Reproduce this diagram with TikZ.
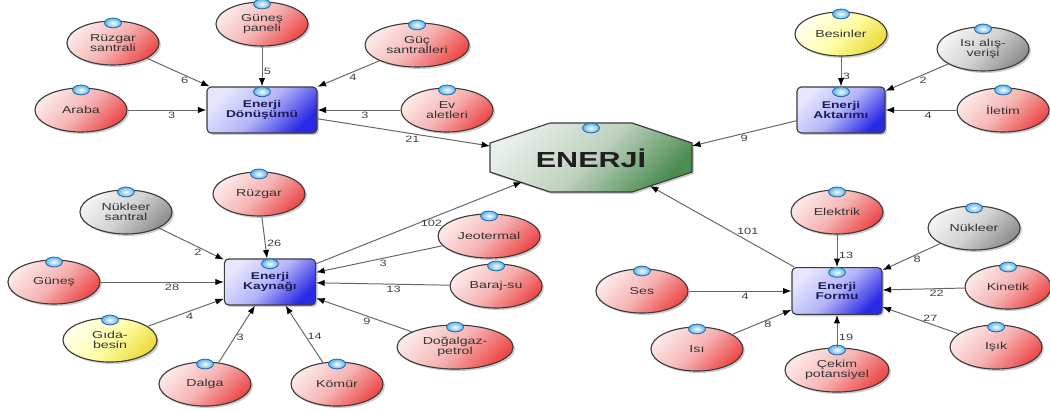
\documentclass[tikz,border=0pt]{standalone}
\usepackage{fontspec}
\newfontfamily\diafont[FakeStretch=1.4]{Liberation Sans}
\usetikzlibrary{positioning,shapes.geometric,arrows.meta,shadows}

\definecolor{rim}{HTML}{3C3C3C}
\definecolor{edgegray}{HTML}{666666}
\definecolor{rosaA}{HTML}{FDE8E8}
\definecolor{rosaB}{HTML}{F6B4B4}
\definecolor{rosaC}{HTML}{EE4A4A}
\definecolor{grisA}{HTML}{F4F4F4}
\definecolor{grisB}{HTML}{D2D2D2}
\definecolor{grisC}{HTML}{8E8E8E}
\definecolor{sariA}{HTML}{FFFFEC}
\definecolor{sariB}{HTML}{FFFFAA}
\definecolor{sariC}{HTML}{ECDC3C}
\definecolor{maviA}{HTML}{E6E6FF}
\definecolor{maviB}{HTML}{B4B4F8}
\definecolor{maviC}{HTML}{2A2AE6}
\definecolor{yesilA}{HTML}{E8EEE8}
\definecolor{yesilB}{HTML}{C0D2C0}
\definecolor{yesilC}{HTML}{4C8E52}
\definecolor{iconblue}{HTML}{5AB4EE}
\definecolor{iconrim}{HTML}{2A6AA8}
\definecolor{navy}{HTML}{1C1C5C}

\newcommand\leaffont{\diafont\fontsize{7.2}{7}\selectfont}
\newcommand\boxfont{\diafont\bfseries\fontsize{7}{7.4}\selectfont}
\newcommand\numfont{\diafont\fontsize{6.5}{7}\selectfont}

\tikzset{
	icon/.style={draw=iconrim, line width=0.6pt, inner color=white, outer color=iconblue},
	iconmark/.style={ellipse, icon, minimum width=12pt, minimum height=7pt, inner sep=0pt, anchor=center},
	badge/.style={label={[iconmark, yshift=-#1]north:{}}},
	soft shadow/.style={drop shadow={shadow xshift=1.4pt, shadow yshift=-1.4pt, fill=black, opacity=.2}},
	leaf/.style={ellipse, draw=rim, line width=0.8pt, minimum width=2.3cm, minimum height=1.1cm, inner sep=0pt, align=center, font=\leaffont, text=black!80, soft shadow, badge=1.8pt},
	redleaf/.style={leaf, top color=rosaA, bottom color=rosaC, middle color=rosaB, shading angle=45},
	grayleaf/.style={leaf, top color=grisA, bottom color=grisC, middle color=grisB, shading angle=45},
	yelleaf/.style={leaf, top color=sariA, bottom color=sariC, middle color=sariB, shading angle=45},
	box/.style={rectangle, rounded corners=3pt, draw=rim, line width=0.8pt, minimum width=2.75cm, minimum height=1.15cm, inner sep=0pt, align=center, font=\boxfont, text=navy, top color=maviA, bottom color=maviC, middle color=maviB, shading angle=45, soft shadow, badge=3.8pt},
	core/.style={draw=rim, line width=0.8pt, top color=yesilA, bottom color=yesilC, middle color=yesilB, shading angle=45, soft shadow},
	link/.style={draw=edgegray, line width=0.7pt, -{Latex[length=6pt, width=4.5pt, color=black]}},
	num/.style={font=\numfont, text=black!75, inner sep=1pt}
}

\begin{document}
\begin{tikzpicture}[x=0.025cm, y=-0.025cm, on grid]
	\useasboundingbox (0,0) rectangle (1050,410);

	\draw[core] (550,123) -- (632,123) -- (692,143) -- (692,172) -- (632,192) -- (550,192) -- (490,172) -- (490,143) -- cycle;
	\node[iconmark] (coreicon) at (591,128) {};
	\node[font=\diafont\bfseries\fontsize{15.5}{18}\selectfont, text=black!88] (enerji) at (591,158) {ENERJİ};
	\coordinate (core-w) at (490,146);
	\coordinate (core-e) at (692,146);
	\coordinate (core-sw) at (522,182);
	\coordinate (core-se) at (650,186);

	\node[box] (don) at (262,110) {Enerji\\Dönüşümü};
	\node[box, minimum width=2.2cm] (akt) at (841,110) {Enerji\\Aktarımı};
	\node[box, minimum width=2.28cm] (kay) at (270,282) {Enerji\\Kaynağı};
	\node[box, minimum width=2.25cm, minimum height=1.17cm] (frm) at (837,291) {Enerji\\Formu};

	\node[redleaf, above left=1.675cm and 3.725cm of don] (ruzs) {Rüzgar\\santrali};
	\node[redleaf, above=2.15cm of don] (gunp) {Güneş\\paneli};
	\node[redleaf, minimum width=2.6cm, above right=1.625cm and 3.875cm of don] (guc) {Güç\\santralleri};
	\node[redleaf, left=4.525cm of don] (arb) {Araba};
	\node[redleaf, right=4.625cm of don] (ev) {Ev\\aletleri};

	\node[yelleaf, above=1.9cm of akt] (bes) {Besinler};
	\node[grayleaf, above right=1.525cm and 3.55cm of akt] (isv) {Isı alış-\\verişi};
	\node[redleaf, right=4.05cm of akt] (ilt) {İletim};

	\node[redleaf, above left=2.2cm and 0.275cm of kay] (rzg) {Rüzgar};
	\node[grayleaf, above left=1.75cm and 3.6cm of kay] (nks) {Nükleer\\santral};
	\node[redleaf, left=5.4cm of kay] (gns) {Güneş};
	\node[yelleaf, minimum width=2.35cm, below left=1.45cm and 4cm of kay] (gid) {Gıda-\\besin};
	\node[redleaf, below left=2.55cm and 1.625cm of kay] (dlg) {Dalga};
	\node[redleaf, below right=2.55cm and 1.675cm of kay] (kmr) {Kömür};
	\node[redleaf, minimum width=2.55cm, above right=1.15cm and 5.475cm of kay] (jeo) {Jeotermal};
	\node[redleaf, below right=0.1cm and 5.65cm of kay] (brj) {Baraj-su};
	\node[redleaf, minimum width=2.9cm, below right=1.625cm and 4.625cm of kay] (dgz) {Doğalgaz-\\petrol};

	\node[redleaf, above=1.975cm of frm] (elk) {Elektrik};
	\node[grayleaf, above right=1.575cm and 3.425cm of frm] (nkl) {Nükleer};
	\node[redleaf, minimum width=2.15cm, above right=0.1cm and 4.275cm of frm] (kin) {Kinetik};
	\node[redleaf, below right=1.4cm and 3.975cm of frm] (isk) {Işık};
	\node[redleaf, minimum width=2.6cm, below=1.975cm of frm] (cek) {Çekim\\potansiyel};
	\node[redleaf, below left=1.45cm and 3.5cm of frm] (isi) {Isı};
	\node[redleaf, left=4.875cm of frm] (ses) {Ses};

	\draw[link] (ruzs) -- node[num, pos=.6, below] {6} (don);
	\draw[link] (gunp) -- node[num, pos=.63, right] {5} (don);
	\draw[link] (guc) -- node[num, pos=.43, below] {4} (don);
	\draw[link] (arb) -- node[num, pos=.56, below] {3} (don);
	\draw[link] (ev) -- node[num, pos=.43, below] {3} (don);
	\draw[link] (don) -- node[num, pos=.55, below] {21} (core-w);

	\draw[link] (bes) -- node[num, pos=.67, right] {3} (akt);
	\draw[link] (isv) -- node[num, pos=.4, below] {2} (akt);
	\draw[link] (ilt) -- node[num, pos=.4, below] {4} (akt);
	\draw[link] (akt) -- node[num, pos=.5, below] {9} (core-e);

	\draw[link] (nks) -- node[num, pos=.6, below] {2} (kay);
	\draw[link] (rzg) -- node[num, pos=.65, right] {26} (kay);
	\draw[link] (gns) -- node[num, pos=.58, below] {28} (kay);
	\draw[link] (gid) -- node[num, pos=.55, below] {4} (kay);
	\draw[link] (dlg) -- node[num, pos=.44, right] {3} (kay);
	\draw[link] (kmr) -- node[num, pos=.46, right] {14} (kay);
	\draw[link] (jeo) -- node[num, pos=.47, below] {3} (kay);
	\draw[link] (brj) -- node[num, pos=.42, below] {13} (kay);
	\draw[link] (dgz) -- node[num, pos=.47, below] {9} (kay);
	\draw[link] (kay) -- node[num, pos=.56, below] {102} (core-sw);

	\draw[link] (elk) -- node[num, pos=.63, right] {13} (frm);
	\draw[link] (nkl) -- node[num, pos=.4, below] {8} (frm);
	\draw[link] (kin) -- node[num, pos=.34, below] {22} (frm);
	\draw[link] (isk) -- node[num, pos=.37, above] {27} (frm);
	\draw[link] (cek) -- node[num, pos=.32, right] {19} (frm);
	\draw[link] (isi) -- node[num, pos=.6, below] {8} (frm);
	\draw[link] (ses) -- node[num, pos=.55, below] {4} (frm);
	\draw[link] (frm) -- node[num, pos=.4, above right, inner sep=0pt] {101} (core-se);
\end{tikzpicture}
\end{document}
